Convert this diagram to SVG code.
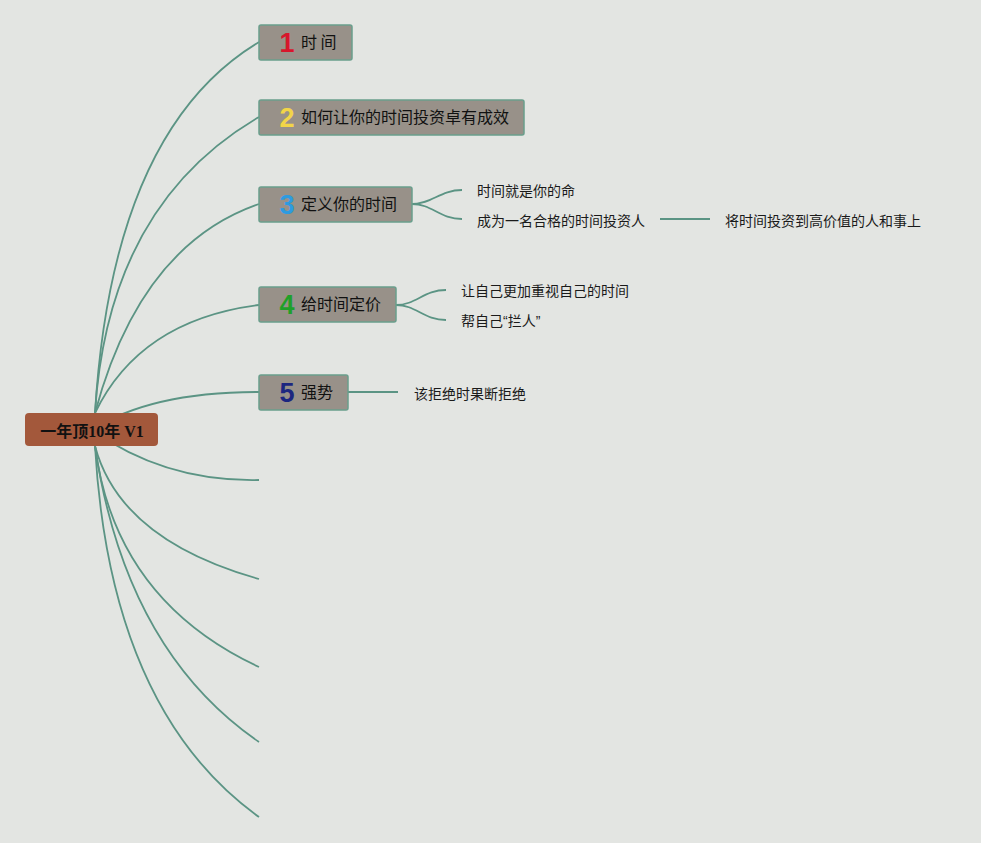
<svg xmlns="http://www.w3.org/2000/svg" width="981" height="843" viewBox="0 0 981 843">
<style>
.bg{fill:#e3e5e2}
.conn path{fill:none;stroke:#5b9484;stroke-width:1.8}
.box{fill:#989189;stroke:#6a9e8c;stroke-width:1.5}
.num{font-family:"Liberation Sans","DejaVu Sans",sans-serif;font-weight:bold;font-size:27px;text-anchor:middle}
.lbl{font-family:"Noto Sans CJK SC",sans-serif;font-size:16px;fill:#111}
.sub{font-family:"Noto Sans CJK SC",sans-serif;font-size:14px;fill:#1a1a1a}
.q{font-family:"Liberation Sans",sans-serif}
.root{font-family:"Liberation Serif","Noto Sans CJK SC",serif;font-weight:bold;font-size:16px;fill:#111;text-anchor:middle}
</style>
<rect class="bg" x="0" y="0" width="981" height="843"/>
<g id="connectors" class="conn">
<path d="M95,413 Q112,130 259,42"/>
<path d="M95,413 Q108,205 259,117"/>
<path d="M95,413 Q140,245 259,204"/>
<path d="M95,413 Q140,320 259,305"/>
<path d="M92,430 Q150,392 259,392"/>
<path d="M92,430 Q165,482 259,480"/>
<path d="M95,446 Q120,540 259,579"/>
<path d="M95,446 Q115,600 259,667"/>
<path d="M95,446 Q125,650 259,742"/>
<path d="M95,446 Q110,710 259,817"/>
<path d="M412,204 C432,204 440,190 462,190"/>
<path d="M412,204 C432,204 440,219 462,219"/>
<path d="M660,219 L710,219"/>
<path d="M396,305 C416,305 424,290 446,290"/>
<path d="M396,305 C416,305 424,320 446,320"/>
<path d="M348,392 L398,392"/>
</g>
<g id="root">
<rect x="25" y="413" width="133" height="33" rx="4" fill="#a3583b"/>
<text class="root" x="92" y="437">一年顶10年 V1</text>
</g>
<g id="node1">
<rect class="box" x="259" y="25" width="93" height="35" rx="2"/>
<text class="num" x="287" y="52" fill="#d8162c">1</text>
<text class="lbl" x="301" y="48">时 间</text>
</g>
<g id="node2">
<rect class="box" x="259" y="100" width="265" height="35" rx="2"/>
<text class="num" x="287" y="127" fill="#f2d548">2</text>
<text class="lbl" x="301" y="123">如何让你的时间投资卓有成效</text>
</g>
<g id="node3">
<rect class="box" x="259" y="187" width="153" height="35" rx="2"/>
<text class="num" x="287" y="214" fill="#2d9be0">3</text>
<text class="lbl" x="301" y="210">定义你的时间</text>
</g>
<g id="node3a"><text class="sub" x="477" y="196">时间就是你的命</text></g>
<g id="node3b"><text class="sub" x="477" y="226">成为一名合格的时间投资人</text></g>
<g id="node3b1"><text class="sub" x="725" y="226">将时间投资到高价值的人和事上</text></g>
<g id="node4">
<rect class="box" x="259" y="287" width="137" height="35" rx="2"/>
<text class="num" x="287" y="314" fill="#1fa02a">4</text>
<text class="lbl" x="301" y="310">给时间定价</text>
</g>
<g id="node4a"><text class="sub" x="461" y="296">让自己更加重视自己的时间</text></g>
<g id="node4b"><text class="sub" x="461" y="326">帮自己<tspan class="q">“</tspan>拦人<tspan class="q">”</tspan></text></g>
<g id="node5">
<rect class="box" x="259" y="375" width="89" height="35" rx="2"/>
<text class="num" x="287" y="402" fill="#1c2680">5</text>
<text class="lbl" x="301" y="398">强势</text>
</g>
<g id="node5a"><text class="sub" x="414" y="399">该拒绝时果断拒绝</text></g>
</svg>
